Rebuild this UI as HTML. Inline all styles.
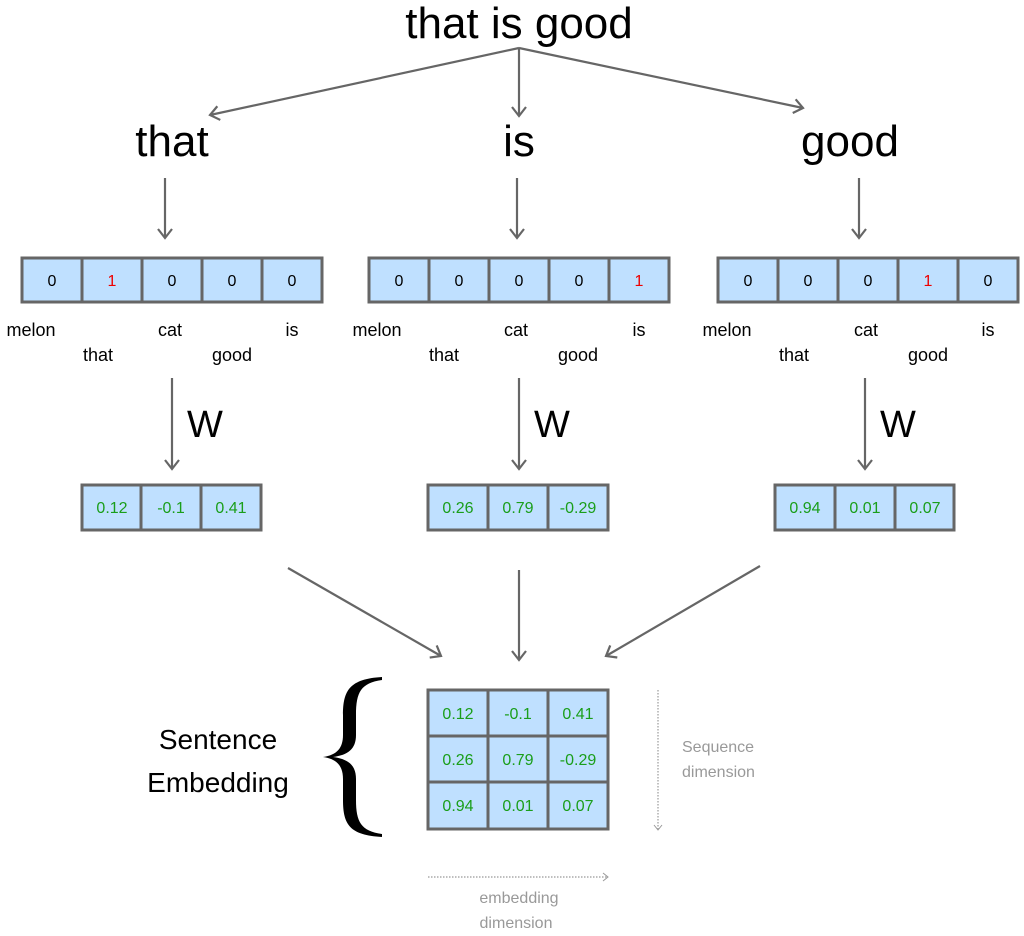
<!DOCTYPE html>
<html><head><meta charset="utf-8"><style>
html,body{margin:0;padding:0;background:#fff;}
svg{display:block;font-family:"Liberation Sans",sans-serif;}
</style></head><body>
<svg width="1024" height="936" viewBox="0 0 1024 936" xmlns="http://www.w3.org/2000/svg">
<defs>
<marker id="ah" markerWidth="16" markerHeight="16" refX="10" refY="8" orient="auto" markerUnits="userSpaceOnUse">
<path d="M1,1 L10,8 L1,15" fill="none" stroke="#666" stroke-width="2.2"/>
</marker>
<marker id="ad" markerWidth="10" markerHeight="10" refX="6" refY="5" orient="auto" markerUnits="userSpaceOnUse">
<path d="M1,1 L6,5 L1,9" fill="none" stroke="#999" stroke-width="1"/>
</marker>
</defs>
<g fill="#000" text-anchor="middle">
<text x="519" y="38" font-size="44">that is good</text>
<text x="172" y="156" font-size="44">that</text>
<text x="519" y="156" font-size="44">is</text>
<text x="850" y="156" font-size="44">good</text>
</g>
<g stroke="#666" stroke-width="2.2" marker-end="url(#ah)">
<line x1="519" y1="48" x2="210" y2="115"/>
<line x1="519" y1="48" x2="519" y2="116"/>
<line x1="519" y1="48" x2="803" y2="108"/>
<line x1="165" y1="178" x2="165" y2="238"/>
<line x1="517" y1="178" x2="517" y2="238"/>
<line x1="859" y1="178" x2="859" y2="238"/>
<line x1="172" y1="378" x2="172" y2="469"/>
<line x1="519" y1="378" x2="519" y2="469"/>
<line x1="865" y1="378" x2="865" y2="469"/>
<line x1="288" y1="568" x2="441" y2="656"/>
<line x1="519" y1="570" x2="519" y2="660"/>
<line x1="760" y1="566" x2="606" y2="656"/>
</g>
<g font-size="38" fill="#000">
<text x="187" y="437">W</text>
<text x="534" y="437">W</text>
<text x="880" y="437">W</text>
</g>
<!-- one-hot rows -->
<g stroke="#666" stroke-width="3" fill="#bfe0ff">
<rect x="22" y="258" width="300" height="44"/>
<rect x="369" y="258" width="300" height="44"/>
<rect x="718" y="258" width="300" height="44"/>
<path d="M82,258v44M142,258v44M202,258v44M262,258v44 M429,258v44M489,258v44M549,258v44M609,258v44 M778,258v44M838,258v44M898,258v44M958,258v44" fill="none"/>
</g>
<g font-size="16" text-anchor="middle" fill="#000">
<text x="52" y="286">0</text><text x="112" y="286" fill="#e00">1</text><text x="172" y="286">0</text><text x="232" y="286">0</text><text x="292" y="286">0</text>
<text x="399" y="286">0</text><text x="459" y="286">0</text><text x="519" y="286">0</text><text x="579" y="286">0</text><text x="639" y="286" fill="#e00">1</text>
<text x="748" y="286">0</text><text x="808" y="286">0</text><text x="868" y="286">0</text><text x="928" y="286" fill="#e00">1</text><text x="988" y="286">0</text>
</g>
<g font-size="18" text-anchor="middle" fill="#000">
<text x="31" y="336">melon</text><text x="170" y="336">cat</text><text x="292" y="336">is</text><text x="98" y="361">that</text><text x="232" y="361">good</text>
<text x="377" y="336">melon</text><text x="516" y="336">cat</text><text x="639" y="336">is</text><text x="444" y="361">that</text><text x="578" y="361">good</text>
<text x="727" y="336">melon</text><text x="866" y="336">cat</text><text x="988" y="336">is</text><text x="794" y="361">that</text><text x="928" y="361">good</text>
</g>
<!-- embeddings -->
<g stroke="#666" stroke-width="3" fill="#bfe0ff">
<rect x="82" y="485" width="179" height="45"/>
<rect x="428" y="485" width="180" height="45"/>
<rect x="775" y="485" width="179" height="45"/>
<path d="M141,485v45M201,485v45 M488,485v45M548,485v45 M835,485v45M895,485v45" fill="none"/>
<rect x="428" y="690" width="180" height="139"/>
<path d="M488,690v139M548,690v139M428,736h180M428,782h180" fill="none"/>
</g>
<g font-size="16" text-anchor="middle" fill="#1a9e1a">
<text x="112" y="513">0.12</text><text x="171" y="513">-0.1</text><text x="231" y="513">0.41</text>
<text x="458" y="513">0.26</text><text x="518" y="513">0.79</text><text x="578" y="513">-0.29</text>
<text x="805" y="513">0.94</text><text x="865" y="513">0.01</text><text x="925" y="513">0.07</text>
<text x="458" y="719">0.12</text><text x="518" y="719">-0.1</text><text x="578" y="719">0.41</text>
<text x="458" y="765">0.26</text><text x="518" y="765">0.79</text><text x="578" y="765">-0.29</text>
<text x="458" y="811">0.94</text><text x="518" y="811">0.01</text><text x="578" y="811">0.07</text>
</g>
<path d="M382,677 C350,679 343,690 343,715 L343,735 C343,748 337,755 323,757 C337,759 343,766 343,779 L343,800 C343,825 350,835 382,837 L382,834 C361,831 356,822 356,800 L356,779 C356,765 348,759 333,757 C348,755 356,749 356,735 L356,715 C356,692 361,683 382,680 Z" fill="#000"/>
<g font-size="28" text-anchor="middle" fill="#000">
<text x="218" y="749">Sentence</text>
<text x="218" y="792">Embedding</text>
</g>
<g stroke="#999" stroke-width="1.2" stroke-dasharray="1.5,1.5" fill="none">
<line x1="658" y1="690" x2="658" y2="830" marker-end="url(#ad)"/>
<line x1="428" y1="877" x2="608" y2="877" marker-end="url(#ad)"/>
</g>
<g font-size="16" fill="#999">
<text x="682" y="752">Sequence</text>
<text x="682" y="777">dimension</text>
<text x="519" y="903" text-anchor="middle">embedding</text>
<text x="516" y="928" text-anchor="middle">dimension</text>
</g>
</svg>
</body></html>
